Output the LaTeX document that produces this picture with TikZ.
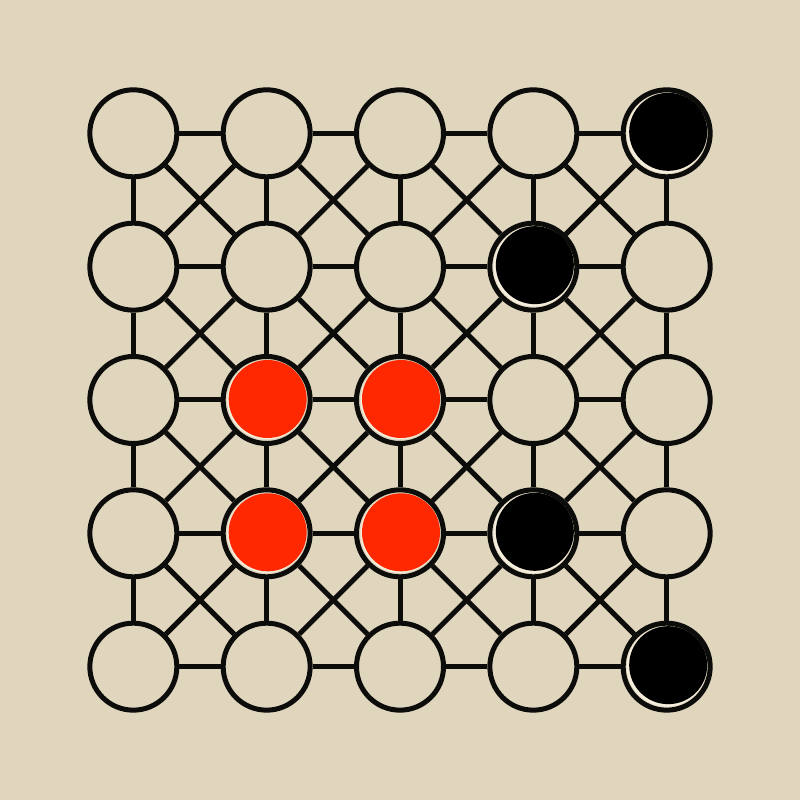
\documentclass[tikz,border=0pt]{standalone}
\definecolor{bg}{RGB}{224,214,190}
\definecolor{hl}{RGB}{245,238,220}
\definecolor{piecered}{RGB}{255,40,0}
\definecolor{ink}{RGB}{12,12,10}
\tikzset{
  spot/.style={circle,draw=ink,line width=0.05cm,fill=bg,minimum size=0.87cm,inner sep=0pt},
  link/.style={draw=ink,line width=0.05cm},
}
\begin{document}
\begin{tikzpicture}[x=1cm,y=1cm]
\fill[bg] (0,0) rectangle (8,8);
\useasboundingbox (0,0) rectangle (8,8);
% nodes
\foreach \r in {0,...,4}{
  \foreach \c in {0,...,4}{
    \node[spot] (n\r\c) at ({(\c+1)*8/6},{8-(\r+1)*8/6}) {};
  }
}
% connectors
\foreach \r in {0,...,4}{
  \foreach \c [evaluate=\c as \cn using int(\c+1)] in {0,...,3}{
    \draw[link] (n\r\c) -- (n\r\cn);
    \draw[link] (n\c\r) -- (n\cn\r);
  }
}
\foreach \r [evaluate=\r as \rn using int(\r+1)] in {0,...,3}{
  \foreach \c [evaluate=\c as \cn using int(\c+1)] in {0,...,3}{
    \draw[link] (n\r\c) -- (n\rn\cn);
    \draw[link] (n\r\cn) -- (n\rn\c);
  }
}
% pieces
\foreach \pos in {n04,n13,n33,n44}{
  \fill[hl] (\pos) circle (0.40);
  \fill[black] ([shift={(0.015,0.015)}]\pos.center) circle (0.39);
}
\foreach \pos in {n21,n22,n31,n32}{
  \fill[hl] (\pos) circle (0.395);
  \fill[piecered] ([shift={(0.01,0.01)}]\pos.center) circle (0.39);
}
\end{tikzpicture}
\end{document}
